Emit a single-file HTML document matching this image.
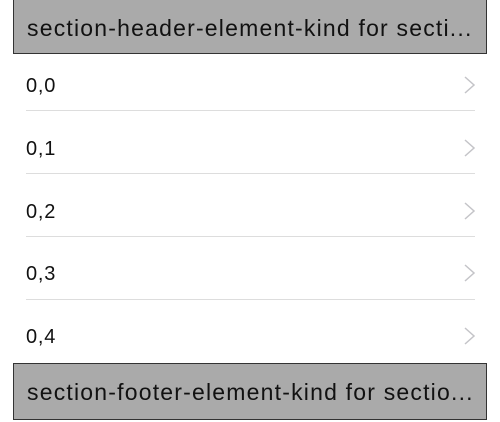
<!DOCTYPE html>
<html><head><style>
body{margin:0;width:500px;height:422px;background:#fff;position:relative;overflow:hidden;font-family:"Liberation Sans",sans-serif;}
.bar{position:absolute;left:13px;width:474px;background:#aaa;border:1px solid #333;font-size:23px;letter-spacing:1.2px;color:#111;box-sizing:border-box;padding-left:13px;white-space:nowrap;}
.row{position:absolute;left:26px;font-size:20px;letter-spacing:0.8px;color:#111;}
.sep{position:absolute;left:26px;width:449px;height:1px;background:#ddd;}
.chev{position:absolute;left:463px;}
</style></head><body>
<div class="bar" style="top:-2px;height:56px;line-height:58px;">section-header-element-kind for secti...</div>
<div class="row" style="top:75px">0,0</div>
<div class="row" style="top:138px">0,1</div>
<div class="row" style="top:201px">0,2</div>
<div class="row" style="top:263px">0,3</div>
<div class="row" style="top:326px">0,4</div>
<div class="sep" style="top:110px"></div>
<div class="sep" style="top:173px"></div>
<div class="sep" style="top:236px"></div>
<div class="sep" style="top:299px"></div>
<svg class="chev" style="top:76px" width="14" height="18"><polyline points="2,1 11,9 2,17" fill="none" stroke="#c4c4c8" stroke-width="1.5"/></svg>
<svg class="chev" style="top:139px" width="14" height="18"><polyline points="2,1 11,9 2,17" fill="none" stroke="#c4c4c8" stroke-width="1.5"/></svg>
<svg class="chev" style="top:202px" width="14" height="18"><polyline points="2,1 11,9 2,17" fill="none" stroke="#c4c4c8" stroke-width="1.5"/></svg>
<svg class="chev" style="top:264px" width="14" height="18"><polyline points="2,1 11,9 2,17" fill="none" stroke="#c4c4c8" stroke-width="1.5"/></svg>
<svg class="chev" style="top:327px" width="14" height="18"><polyline points="2,1 11,9 2,17" fill="none" stroke="#c4c4c8" stroke-width="1.5"/></svg>
<div class="bar" style="top:363px;height:57px;line-height:56px;">section-footer-element-kind for sectio...</div>
</body></html>
